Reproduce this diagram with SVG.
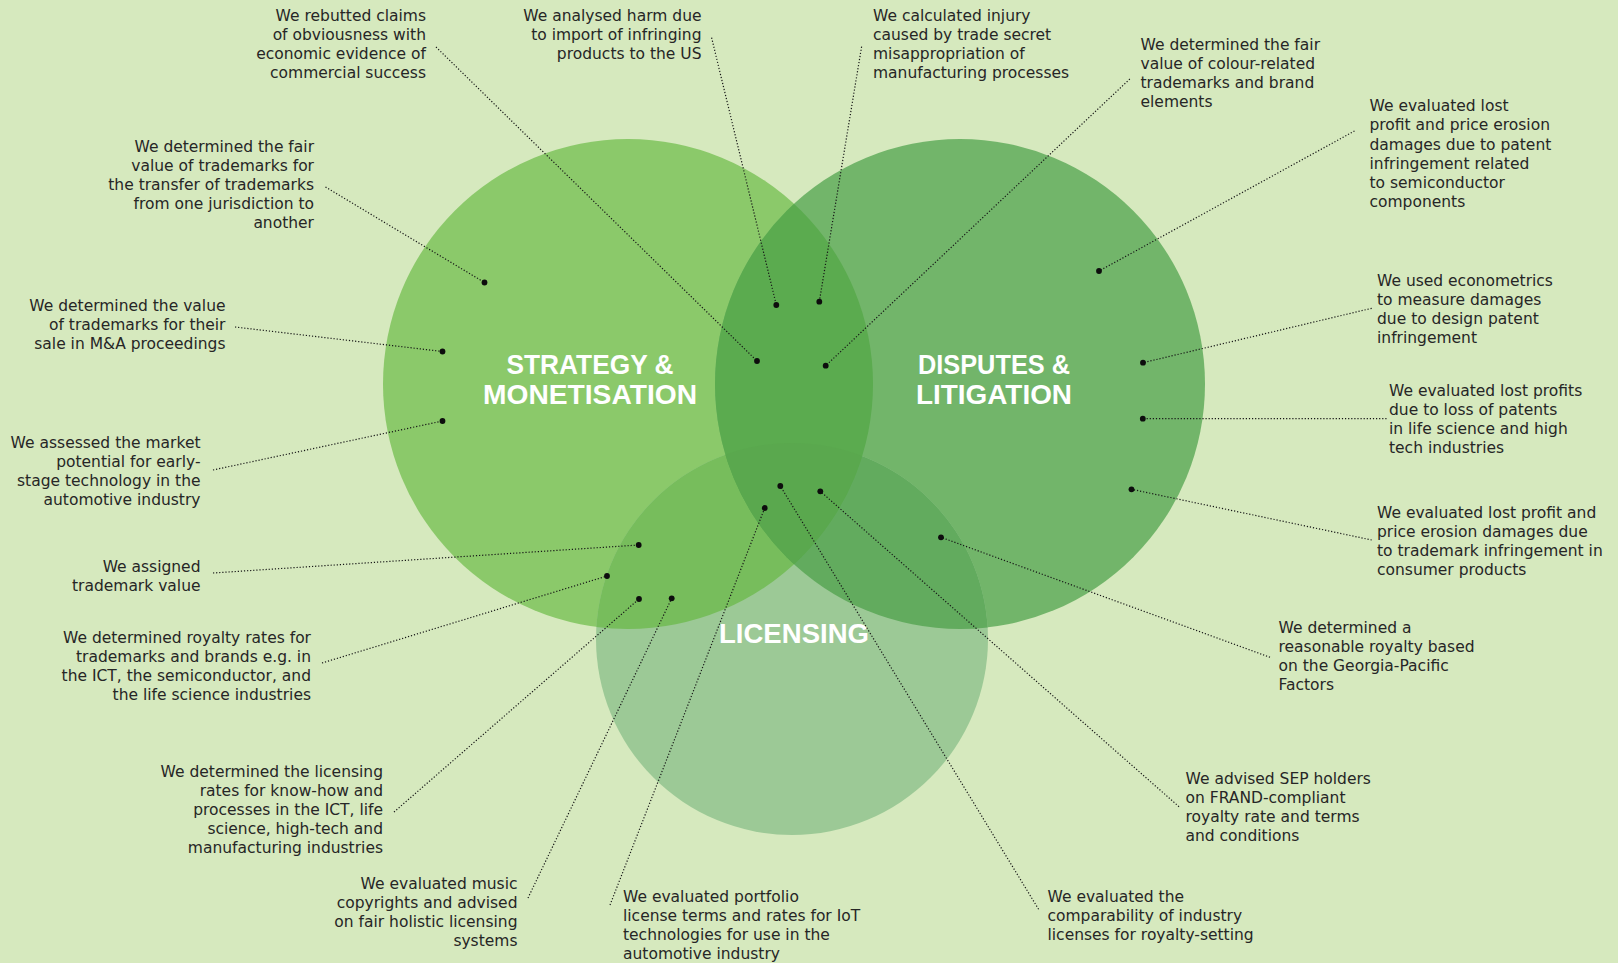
<svg xmlns="http://www.w3.org/2000/svg" width="1618" height="963" viewBox="0 0 1618 963">
<style>
.t{font-family:"DejaVu Sans","Liberation Sans",sans-serif;font-size:15.5px;fill:#262626}
.r{text-anchor:end}
.h{font-family:"Liberation Sans",Arial,sans-serif;font-weight:bold;font-size:28px;fill:#ffffff;text-anchor:middle}
.c{fill:none;stroke:#161616;stroke-width:1.2;stroke-dasharray:1.2 1.9;marker-end:url(#dot)}
</style>
<defs>
<marker id="dot" viewBox="-4 -4 8 8" refX="0" refY="0" markerWidth="8" markerHeight="8" markerUnits="userSpaceOnUse"><circle r="2.9" fill="#0d0d0d"/></marker>
<clipPath id="cS"><circle cx="628" cy="384" r="245"/></clipPath>
<clipPath id="cD"><circle cx="960" cy="384" r="245"/></clipPath>
<clipPath id="cL"><circle cx="792" cy="639" r="196"/></clipPath>
</defs>
<rect width="1618" height="963" fill="#d6e9be"/>
<g id="circles">
<circle id="strategy-circle" cx="628" cy="384" r="245" fill="#8bc96a"/>
<circle id="disputes-circle" cx="960" cy="384" r="245" fill="#72b56a"/>
<circle id="licensing-circle" cx="792" cy="639" r="196" fill="#9cc996"/>
<circle cx="628" cy="384" r="245" fill="#77bd5c" clip-path="url(#cL)"/>
<circle cx="960" cy="384" r="245" fill="#62ab5e" clip-path="url(#cL)"/>
<circle cx="628" cy="384" r="245" fill="#5bab4f" clip-path="url(#cD)"/>
<g clip-path="url(#cL)"><circle cx="628" cy="384" r="245" fill="#5aa84e" clip-path="url(#cD)"/></g>
</g>
<g id="strategy"><text class="h" x="590" y="374" textLength="167" lengthAdjust="spacingAndGlyphs">STRATEGY &amp;</text><text class="h" x="590" y="404" textLength="214" lengthAdjust="spacingAndGlyphs">MONETISATION</text></g>
<g id="disputes"><text class="h" x="994" y="374" textLength="152" lengthAdjust="spacingAndGlyphs">DISPUTES &amp;</text><text class="h" x="994" y="404" textLength="156" lengthAdjust="spacingAndGlyphs">LITIGATION</text></g>
<g id="licensing"><text class="h" x="794" y="643" textLength="150" lengthAdjust="spacingAndGlyphs">LICENSING</text></g>
<g id="connectors">
<line class="c" x1="436" y1="47" x2="757" y2="361"/>
<line class="c" x1="325.5" y1="187" x2="484.5" y2="282.5"/>
<line class="c" x1="235" y1="327" x2="442.5" y2="351.5"/>
<line class="c" x1="213" y1="470" x2="442.5" y2="421"/>
<line class="c" x1="213" y1="573" x2="638.7" y2="545"/>
<line class="c" x1="322" y1="663" x2="607" y2="576"/>
<line class="c" x1="394" y1="812" x2="639" y2="599"/>
<line class="c" x1="528" y1="898" x2="671.7" y2="598.3"/>
<line class="c" x1="610" y1="905" x2="764.7" y2="508"/>
<line class="c" x1="1038.6" y1="909.3" x2="780.3" y2="486"/>
<line class="c" x1="1179" y1="806.7" x2="820.3" y2="491.3"/>
<line class="c" x1="1270" y1="657.3" x2="941" y2="537.3"/>
<line class="c" x1="1371.7" y1="540" x2="1131.5" y2="489.3"/>
<line class="c" x1="1386.5" y1="418.7" x2="1142.8" y2="418.7"/>
<line class="c" x1="1371.7" y1="308.3" x2="1143" y2="362.7"/>
<line class="c" x1="1354.5" y1="131" x2="1099" y2="271"/>
<line class="c" x1="1129.8" y1="79" x2="825.7" y2="365.7"/>
<line class="c" x1="861.6" y1="46.7" x2="819.3" y2="301.7"/>
<line class="c" x1="711.6" y1="37.7" x2="776.3" y2="305"/>
</g>
<g id="n-rebutted"><text class="t r"><tspan x="426" y="20.5">We rebutted claims</tspan><tspan x="426" y="39.5">of obviousness with</tspan><tspan x="426" y="58.5">economic evidence of</tspan><tspan x="426" y="77.5">commercial success</tspan></text></g>
<g id="n-transfer"><text class="t r"><tspan x="314" y="152">We determined the fair</tspan><tspan x="314" y="171">value of trademarks for</tspan><tspan x="314" y="190">the transfer of trademarks</tspan><tspan x="314" y="209">from one jurisdiction to</tspan><tspan x="314" y="228">another</tspan></text></g>
<g id="n-ma"><text class="t r"><tspan x="225.5" y="311">We determined the value</tspan><tspan x="225.5" y="330">of trademarks for their</tspan><tspan x="225.5" y="349">sale in M&amp;A proceedings</tspan></text></g>
<g id="n-market"><text class="t r"><tspan x="200.5" y="448">We assessed the market</tspan><tspan x="200.5" y="467">potential for early-</tspan><tspan x="200.5" y="486">stage technology in the</tspan><tspan x="200.5" y="505">automotive industry</tspan></text></g>
<g id="n-assigned"><text class="t r"><tspan x="200.5" y="572">We assigned</tspan><tspan x="200.5" y="591">trademark value</tspan></text></g>
<g id="n-royalty"><text class="t r"><tspan x="311" y="643">We determined royalty rates for</tspan><tspan x="311" y="662">trademarks and brands e.g. in</tspan><tspan x="311" y="681">the ICT, the semiconductor, and</tspan><tspan x="311" y="700">the life science industries</tspan></text></g>
<g id="n-licensing-rates"><text class="t r"><tspan x="383" y="777">We determined the licensing</tspan><tspan x="383" y="796">rates for know-how and</tspan><tspan x="383" y="815">processes in the ICT, life</tspan><tspan x="383" y="834">science, high-tech and</tspan><tspan x="383" y="853">manufacturing industries</tspan></text></g>
<g id="n-music"><text class="t r"><tspan x="517.5" y="889">We evaluated music</tspan><tspan x="517.5" y="908">copyrights and advised</tspan><tspan x="517.5" y="927">on fair holistic licensing</tspan><tspan x="517.5" y="946">systems</tspan></text></g>
<g id="n-portfolio"><text class="t"><tspan x="623" y="902">We evaluated portfolio</tspan><tspan x="623" y="921">license terms and rates for IoT</tspan><tspan x="623" y="940">technologies for use in the</tspan><tspan x="623" y="959">automotive industry</tspan></text></g>
<g id="n-comparability"><text class="t"><tspan x="1047.5" y="902">We evaluated the</tspan><tspan x="1047.5" y="921">comparability of industry</tspan><tspan x="1047.5" y="940">licenses for royalty-setting</tspan></text></g>
<g id="n-sep"><text class="t"><tspan x="1185.5" y="784">We advised SEP holders</tspan><tspan x="1185.5" y="803">on FRAND-compliant</tspan><tspan x="1185.5" y="822">royalty rate and terms</tspan><tspan x="1185.5" y="841">and conditions</tspan></text></g>
<g id="n-georgia"><text class="t"><tspan x="1278.5" y="633">We determined a</tspan><tspan x="1278.5" y="652">reasonable royalty based</tspan><tspan x="1278.5" y="671">on the Georgia-Pacific</tspan><tspan x="1278.5" y="690">Factors</tspan></text></g>
<g id="n-consumer"><text class="t"><tspan x="1377" y="517.5">We evaluated lost profit  and</tspan><tspan x="1377" y="536.5">price erosion damages due</tspan><tspan x="1377" y="555.5">to trademark infringement in</tspan><tspan x="1377" y="574.5">consumer products</tspan></text></g>
<g id="n-patents"><text class="t"><tspan x="1389" y="396">We evaluated lost profits</tspan><tspan x="1389" y="415">due to loss of patents</tspan><tspan x="1389" y="434">in life science and high</tspan><tspan x="1389" y="453">tech industries</tspan></text></g>
<g id="n-econometrics"><text class="t"><tspan x="1377" y="286">We used econometrics</tspan><tspan x="1377" y="305">to measure damages</tspan><tspan x="1377" y="324">due to design patent</tspan><tspan x="1377" y="343">infringement</tspan></text></g>
<g id="n-semiconductor"><text class="t"><tspan x="1369.5" y="111">We evaluated lost</tspan><tspan x="1369.5" y="130">profit and price erosion</tspan><tspan x="1369.5" y="149.5">damages due to patent</tspan><tspan x="1369.5" y="168.5">infringement related</tspan><tspan x="1369.5" y="188">to semiconductor</tspan><tspan x="1369.5" y="207">components</tspan></text></g>
<g id="n-colour"><text class="t"><tspan x="1140.5" y="50">We determined the fair</tspan><tspan x="1140.5" y="69">value of colour-related</tspan><tspan x="1140.5" y="88">trademarks and brand</tspan><tspan x="1140.5" y="107">elements</tspan></text></g>
<g id="n-injury"><text class="t"><tspan x="873" y="20.5">We calculated injury</tspan><tspan x="873" y="39.5">caused by trade secret</tspan><tspan x="873" y="58.5">misappropriation of</tspan><tspan x="873" y="77.5">manufacturing processes</tspan></text></g>
<g id="n-harm"><text class="t r"><tspan x="701.5" y="20.5">We analysed harm due</tspan><tspan x="701.5" y="40">to import of infringing</tspan><tspan x="701.5" y="59">products to the US</tspan></text></g>
</svg>
